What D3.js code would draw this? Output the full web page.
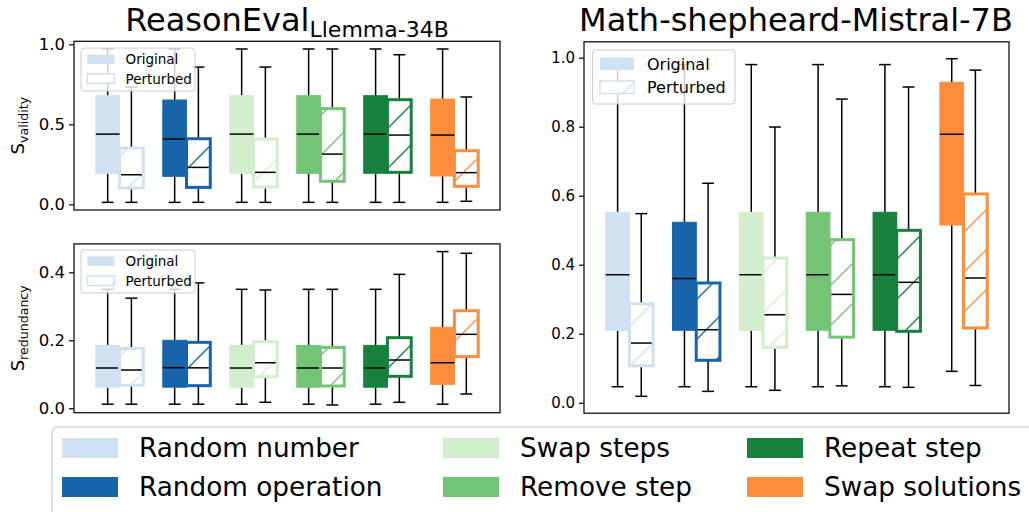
<!DOCTYPE html>
<html><head><meta charset="utf-8">
<script src="https://cdn.jsdelivr.net/npm/d3@7/dist/d3.min.js"></script>
<style>body{margin:0;background:#fff} text{font-family:"DejaVu Sans",sans-serif;fill:#000}</style>
</head><body><svg id="c" width="1029" height="512"></svg>
<script>
// ---------- data ----------
const categories = ["Random number", "Random operation", "Swap steps", "Remove step", "Repeat step", "Swap solutions"];
const colors = ["#d0e1f2", "#1764ab", "#d3eecd", "#74c476", "#17803d", "#fd8d3c"];
const seriesNames = ["Original", "Perturbed"];
// each entry: [lower whisker, Q1, median, Q3, upper whisker]
const validityOriginal = [
  [0.0125, 0.194, 0.439, 0.679, 0.971],
  [0.0125, 0.175, 0.408, 0.652, 0.971],
  [0.0125, 0.194, 0.439, 0.679, 0.971],
  [0.0125, 0.194, 0.439, 0.679, 0.971],
  [0.0125, 0.194, 0.439, 0.679, 0.971],
  [0.0125, 0.177, 0.433, 0.658, 0.971]];
const validityPerturbed = [
  [0.0125, 0.102, 0.185, 0.352, 0.733],
  [0.0125, 0.106, 0.231, 0.410, 0.858],
  [0.0125, 0.108, 0.200, 0.408, 0.858],
  [0.0125, 0.144, 0.314, 0.598, 0.971],
  [0.0125, 0.200, 0.433, 0.654, 0.935],
  [0.019, 0.1125, 0.198, 0.335, 0.671]];
const redundancyOriginal = [
  [0.012, 0.062, 0.1185, 0.185, 0.350],
  [0.012, 0.062, 0.1194, 0.200, 0.350],
  [0.012, 0.062, 0.1185, 0.185, 0.350],
  [0.012, 0.062, 0.1185, 0.185, 0.350],
  [0.012, 0.062, 0.1185, 0.185, 0.350],
  [0.012, 0.0705, 0.134, 0.238, 0.461]];
const redundancyPerturbed = [
  [0.012, 0.0676, 0.1126, 0.176, 0.324],
  [0.012, 0.0665, 0.119, 0.194, 0.369],
  [0.0176, 0.093, 0.134, 0.196, 0.348],
  [0.0097, 0.0656, 0.1185, 0.179, 0.350],
  [0.0176, 0.094, 0.142, 0.2077, 0.394],
  [0.042, 0.152, 0.2176, 0.287, 0.456]];
const shepherdOriginal = [
  [0.0464, 0.210, 0.371, 0.552, 0.980],
  [0.0464, 0.210, 0.360, 0.523, 0.980],
  [0.0464, 0.210, 0.371, 0.552, 0.980],
  [0.0464, 0.210, 0.371, 0.552, 0.980],
  [0.0464, 0.210, 0.371, 0.552, 0.980],
  [0.091, 0.515, 0.778, 0.9286, 0.997]];
const shepherdPerturbed = [
  [0.0186, 0.107, 0.173, 0.287, 0.548],
  [0.033, 0.123, 0.2116, 0.347, 0.636],
  [0.036, 0.1605, 0.255, 0.4194, 0.799],
  [0.049, 0.190, 0.314, 0.4725, 0.880],
  [0.0446, 0.207, 0.349, 0.4997, 0.915],
  [0.050, 0.2165, 0.3614, 0.605, 0.964]];
const validityTicks = [0.0, 0.5, 1.0];
const redundancyTicks = [0.0, 0.2, 0.4];
const shepherdTicks = [0.0, 0.2, 0.4, 0.6, 0.8, 1.0];

// ---------- drawing ----------
const svg = d3.select("#c");
const defs = svg.append("defs");
colors.forEach((c, i) => {
  const p = defs.append("pattern").attr("id", "hatch" + i)
    .attr("patternUnits", "userSpaceOnUse").attr("width", 40).attr("height", 40);
  p.append("rect").attr("width", 40).attr("height", 40).attr("fill", "#fff");
  p.append("path").attr("d", "M-4,40 L36,0 M34,42 L42,34")
    .attr("stroke", c).attr("stroke-width", 1.3).attr("fill", "none");
});

const OFF = 0.177, BW = 0.355;

function drawPanel(cfg) {
  const g = svg.append("g");
  const x = d3.scaleLinear().domain([-0.68, 5.68]).range([cfg.x0, cfg.x1]);
  const y = d3.scaleLinear().domain(cfg.domain).range([cfg.y1, cfg.y0]);
  const w = x(BW) - x(0);
  const capW = w / 2;

  function box(stats, xc, i, perturbed) {
    const [lo, q1, med, q3, hi] = stats;
    const bg = g.append("g");
    bg.append("line").attr("x1", xc).attr("x2", xc).attr("y1", y(q3)).attr("y2", y(hi))
      .attr("stroke", "#000").attr("stroke-width", 1.5);
    bg.append("line").attr("x1", xc).attr("x2", xc).attr("y1", y(q1)).attr("y2", y(lo))
      .attr("stroke", "#000").attr("stroke-width", 1.5);
    [lo, hi].forEach(v => bg.append("line").attr("x1", xc - capW / 2).attr("x2", xc + capW / 2)
      .attr("y1", y(v)).attr("y2", y(v)).attr("stroke", "#000").attr("stroke-width", 1.5));
    if (perturbed) {
      bg.append("rect").attr("x", xc - w / 2).attr("y", y(q3)).attr("width", w).attr("height", y(q1) - y(q3))
        .attr("fill", "url(#hatch" + i + ")").attr("stroke", colors[i]).attr("stroke-width", 3);
    } else {
      bg.append("rect").attr("x", xc - w / 2).attr("y", y(q3)).attr("width", w).attr("height", y(q1) - y(q3))
        .attr("fill", colors[i]).attr("stroke", colors[i]).attr("stroke-width", 1);
    }
    const mw = perturbed ? w / 2 - 1.5 : w / 2;
    bg.append("line").attr("x1", xc - mw).attr("x2", xc + mw).attr("y1", y(med)).attr("y2", y(med))
      .attr("stroke", "#000").attr("stroke-width", 1.5);
  }
  categories.forEach((c, i) => {
    box(cfg.orig[i], x(i - OFF), i, false);
    box(cfg.pert[i], x(i + OFF), i, true);
  });

  const ax = g.append("g").attr("transform", `translate(${cfg.x0},0)`)
    .call(d3.axisLeft(y).tickValues(cfg.ticks).tickSize(5).tickPadding(4).tickFormat(d3.format(".1f")));
  ax.select(".domain").remove();
  ax.selectAll(".tick line").attr("stroke", "#000").attr("stroke-width", 1.2);
  ax.selectAll(".tick text").attr("font-size", cfg.tickFont).attr("font-family", "DejaVu Sans").attr("fill", "#000");

  const L = cfg.legend;
  const lg = g.append("g");
  lg.append("rect").attr("x", L.x).attr("y", L.y).attr("width", L.w).attr("height", L.h).attr("rx", 3)
    .attr("fill", "#fff").attr("fill-opacity", 0.8).attr("stroke", "#cccccc").attr("stroke-width", 1);
  seriesNames.forEach((s, k) => {
    const py = L.y + L.pad + k * L.rowH;
    lg.append("rect").attr("x", L.x + L.pad).attr("y", py).attr("width", L.pw).attr("height", L.ph)
      .attr("fill", k === 0 ? colors[0] : "url(#hatch0)")
      .attr("stroke", colors[0]).attr("stroke-width", k === 0 ? 0 : 1.5);
    lg.append("text").attr("x", L.x + L.pad + L.pw + L.gap).attr("y", py + L.ph / 2 + L.font * 0.36)
      .attr("font-size", L.font).text(s);
  });

  g.append("rect").attr("x", cfg.x0).attr("y", cfg.y0).attr("width", cfg.x1 - cfg.x0).attr("height", cfg.y1 - cfg.y0)
    .attr("fill", "none").attr("stroke", "#111").attr("stroke-width", 1.3);

  if (cfg.ylabel) {
    const t = g.append("text").attr("transform", `translate(${cfg.ylabelX},${(cfg.y0 + cfg.y1) / 2}) rotate(-90)`)
      .attr("text-anchor", "middle");
    t.append("tspan").attr("font-size", 18).text("S");
    t.append("tspan").attr("font-size", 12.6).attr("dy", 4).text(cfg.ylabel);
  }
}

drawPanel({x0: 74, x1: 500, y0: 41.3, y1: 210, domain: [-0.0354, 1.019], ticks: validityTicks,
  orig: validityOriginal, pert: validityPerturbed, tickFont: 16.5, ylabel: "validity", ylabelX: 24,
  legend: {x: 81, y: 48, w: 114, h: 43, pad: 6.5, rowH: 19.5, pw: 27, ph: 9.5, gap: 11, font: 13.5}});
drawPanel({x0: 74, x1: 500, y0: 243.9, y1: 412.7, domain: [-0.013, 0.4836], ticks: redundancyTicks,
  orig: redundancyOriginal, pert: redundancyPerturbed, tickFont: 16.5, ylabel: "redundancy", ylabelX: 24,
  legend: {x: 81, y: 250, w: 114, h: 43, pad: 6.5, rowH: 19.5, pw: 27, ph: 9.5, gap: 11, font: 13.5}});
drawPanel({x0: 584, x1: 1009, y0: 41.8, y1: 413.2, domain: [-0.0303, 1.046], ticks: shepherdTicks,
  orig: shepherdOriginal, pert: shepherdPerturbed, tickFont: 15, ylabel: null,
  legend: {x: 592.5, y: 50, w: 142.5, h: 54, pad: 7.5, rowH: 23.5, pw: 34, ph: 12.5, gap: 13, font: 16}});

const t1 = svg.append("text").attr("x", 287).attr("y", 31).attr("text-anchor", "middle");
t1.append("tspan").attr("font-size", 32).text("ReasonEval");
t1.append("tspan").attr("font-size", 22).attr("dy", 6).text("Llemma-34B");
svg.append("text").attr("x", 796).attr("y", 31).attr("text-anchor", "middle").attr("font-size", 32)
  .text("Math-shepheard-Mistral-7B");

const lg = svg.append("g");
lg.append("rect").attr("x", 52).attr("y", 427).attr("width", 1000).attr("height", 100).attr("rx", 6)
  .attr("fill", "#fff").attr("stroke", "#d5d5d5").attr("stroke-width", 1.5);
const colX = [62, 443, 747], rowY = [438, 477];
categories.forEach((c, i) => {
  const col = Math.floor(i / 2), row = i % 2;
  lg.append("rect").attr("x", colX[col]).attr("y", rowY[row]).attr("width", 56).attr("height", 20)
    .attr("fill", colors[i]);
  lg.append("text").attr("x", colX[col] + 77).attr("y", rowY[row] + 19).attr("font-size", 26.3).text(c);
});
</script></body></html>
